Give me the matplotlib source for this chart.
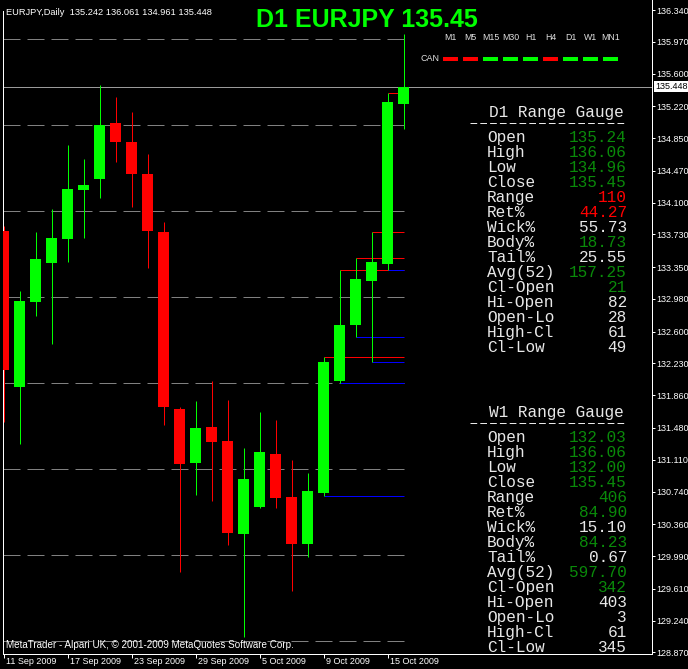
import matplotlib
matplotlib.use("Agg")
import matplotlib.pyplot as plt
from matplotlib import transforms

plt.rcParams['lines.scale_dashes'] = False

# ---------------- data ----------------
symbol = "EURJPY"
period = "Daily"
opens = [133.77, 131.96, 132.95, 133.40, 133.68, 134.25, 134.37, 135.03, 134.81, 134.43,
         133.76, 131.70, 131.07, 131.49, 131.33, 130.25, 130.56, 131.18, 130.68, 130.13,
         130.72, 132.03, 132.68, 133.19, 133.39, 135.242]
highs = [133.83, 133.07, 133.76, 134.03, 134.77, 134.61, 135.47, 135.33, 135.15, 134.67,
         133.88, 131.72, 131.79, 132.03, 131.81, 131.25, 131.67, 131.57, 131.11, 130.96,
         132.31, 133.32, 133.46, 133.76, 135.38, 136.061]
lows = [131.55, 131.29, 132.78, 132.46, 133.41, 133.69, 134.15, 134.57, 134.05, 133.34,
        131.51, 129.81, 130.70, 130.63, 130.12, 129.05, 130.55, 130.55, 129.58, 129.98,
        130.69, 132.00, 132.54, 132.25, 133.32, 134.961]
closes = [132.15, 132.96, 133.44, 133.69, 134.26, 134.31, 135.00, 134.81, 134.43, 133.77,
          131.72, 131.06, 131.48, 131.32, 130.26, 130.89, 131.20, 130.67, 130.13, 130.75,
          132.25, 132.68, 133.21, 133.41, 135.27, 135.448]

date_labels = ["11 Sep 2009", "17 Sep 2009", "23 Sep 2009", "29 Sep 2009",
               "5 Oct 2009", "9 Oct 2009", "15 Oct 2009"]
date_label_bars = [0, 4, 8, 12, 16, 20, 24]
price_ticks = [136.340, 135.970, 135.600, 135.220, 134.850, 134.470, 134.100, 133.730,
               133.350, 132.980, 132.600, 132.230, 131.860, 131.480, 131.110, 130.740,
               130.360, 129.990, 129.610, 129.240, 128.870]
grid_levels = [129, 130, 131, 132, 133, 134, 135, 136]
level_bars = [20, 21, 22, 23, 24]

title_text = "D1 EURJPY 135.45"
watermark = "MetaTrader - Alpari UK, \u00a9 2001-2009 MetaQuotes Software Corp."
tf_labels = ["M1", "M5", "M15", "M30", "H1", "H4", "D1", "W1", "MN1"]
tf_bull = [False, False, True, True, True, False, True, True, True]
tf_row_label = "CAN"

gauge_labels = ["Open", "High", "Low", "Close", "Range", "Ret%", "Wick%", "Body%",
                "Tail%", "Avg(52)", "Cl-Open", "Hi-Open", "Open-Lo", "High-Cl", "Cl-Low"]
d1_title = "D1 Range Gauge"
d1_values = ["135.24", "136.06", "134.96", "135.45", "110", "44.27", "55.73", "18.73",
             "25.55", "157.25", "21", "82", "28", "61", "49"]
d1_kinds = ["g", "g", "g", "g", "r", "r", "w", "g", "w", "g", "g", "w", "w", "w", "w"]
w1_title = "W1 Range Gauge"
w1_values = ["132.03", "136.06", "132.00", "135.45", "406", "84.90", "15.10", "84.23",
             "0.67", "597.70", "342", "403", "3", "61", "345"]
w1_kinds = ["g", "g", "g", "g", "g", "g", "w", "g", "w", "g", "g", "w", "w", "w", "w"]

# ---------------- layout ----------------
W, H = 688, 669
BULL, BEAR = "#00FF00", "#FF0000"
GAUGE_COL = {"g": "#0a8a0a", "r": "#FF0000", "w": "#E8E8E8"}
PX = 0.72  # 1 px in points at 100 dpi
SANS = "Liberation Sans"
MONO = "Liberation Mono"

fig = plt.figure(figsize=(W / 100, H / 100), dpi=100, facecolor="black")

ax_left_px, ax_right_px = 2.5, 651.5
ax_top_px, ax_bot_px = 0.0, 653.5
ax = fig.add_axes([ax_left_px / W, (H - ax_bot_px) / H,
                   (ax_right_px - ax_left_px) / W, (ax_bot_px - ax_top_px) / H])
ax.set_facecolor("black")

bar_px, bar0_px = 16.0, 3.5
ppy = 86.0  # px per yen
ref_price, ref_row = 136.34, 10.0


def price_at_row(r):
    return ref_price - (r - ref_row) / ppy


x_lo = (ax_left_px - bar0_px) / bar_px
x_hi = (ax_right_px - bar0_px) / bar_px
y_hi = price_at_row(ax_top_px)
y_lo = price_at_row(ax_bot_px)
ax.set_xlim(x_lo, x_hi)
ax.set_ylim(y_lo, y_hi)

last = len(closes) - 1

# grid (dashed), only over the candle area
for lvl in grid_levels:
    ax.plot([x_lo, last + 0.03], [lvl, lvl], color="#808080", lw=PX,
            dashes=(17 * PX, 7 * PX), zorder=1, solid_capstyle="butt")

# bid line
ax.axhline(closes[-1], color="#9a9a9a", lw=PX, zorder=1.5)

# high/low levels of recent bars
for i in level_bars:
    ax.hlines(highs[i], i, last, color="#FF0000", lw=PX, zorder=2)
    ax.hlines(lows[i], i, last, color="#0000FF", lw=PX, zorder=2)

# candles
body_w = 11 / bar_px
for i, (o, h, l, c) in enumerate(zip(opens, highs, lows, closes)):
    col = BULL if c >= o else BEAR
    ax.vlines(i, l, h, color=col, lw=PX, zorder=3)
    ax.bar(i, max(abs(c - o), 0.02), bottom=min(o, c), width=body_w, color=col,
           edgecolor="none", zorder=3.5)

# spines / ticks
ax.spines["top"].set_visible(False)
for s in ["left", "right", "bottom"]:
    ax.spines[s].set_color("white")
    ax.spines[s].set_linewidth(PX)
ax.spines["left"].set_bounds(y_lo, price_at_row(11))

ax.yaxis.tick_right()
ax.set_yticks(price_ticks)
ax.set_yticklabels([f"{p:.3f}" for p in price_ticks])
ax.tick_params(axis="y", colors="white", length=3 * PX, width=PX, pad=1.5,
               labelsize=6.5, labelcolor="white")
for t in ax.get_yticklabels():
    t.set_fontfamily(SANS)

ax.set_xticks(date_label_bars)
ax.set_xticklabels([""] * len(date_label_bars))
ax.tick_params(axis="x", colors="white", length=4 * PX, width=PX)
xt = transforms.offset_copy(ax.get_xaxis_transform(), fig=fig, x=2, y=-3.5, units="dots")
for b, lab in zip(date_label_bars, date_labels):
    ax.text(b, 0, lab, transform=xt, ha="left", va="top", fontsize=6.5,
            family=SANS, color="white", clip_on=False)

# current price box
pt = transforms.offset_copy(transforms.blended_transform_factory(ax.transAxes, ax.transData),
                            fig=fig, x=4, y=0, units="dots")
ax.text(1.0, closes[-1], f"{closes[-1]:.3f}", transform=pt, ha="left", va="center",
        fontsize=6.5, family=SANS, color="black",
        bbox=dict(facecolor="white", edgecolor="none", pad=0.9), clip_on=False)


def fx(x):
    return x / W


def fy(y):
    return 1 - y / H


# header
fig.text(fx(6), fy(15), f"{symbol},{period}  " + " ".join(
    f"{v:.3f}" for v in (opens[-1], highs[-1], lows[-1], closes[-1])),
    ha="left", va="baseline", fontsize=6.7, family=SANS, color="white")

# watermark
fig.text(fx(6), fy(647.5), watermark, ha="left", va="baseline", fontsize=7.1,
         family=SANS, color="white")

# title
fig.text(fx(367), fy(27), title_text, ha="center", va="baseline", fontsize=18,
         weight="bold", family=SANS, color="#00FF00")

# timeframe row
for k, (lab, bull) in enumerate(zip(tf_labels, tf_bull)):
    x0 = 443 + 20 * k
    fig.text(fx(x0 + 7.5), fy(40), lab, ha="center", va="baseline", fontsize=6.3,
             family=SANS, color="#E0E0E0")
    fig.add_artist(plt.Line2D([fx(x0), fx(x0 + 15)], [fy(58.5), fy(58.5)],
                              transform=fig.transFigure, color=BULL if bull else BEAR,
                              lw=4 * PX, solid_capstyle="butt"))
fig.text(fx(439.5), fy(61), tf_row_label, ha="right", va="baseline", fontsize=6.5,
         family=SANS, color="#E0E0E0")


# gauges
def gauge(top, title, values, kinds):
    t = fig.text(fx(489), fy(top + 117.3), title, ha="left", va="baseline",
                 fontsize=11.6, family=MONO, color="#E8E8E8")
    t.set_clip_box(ax.bbox)
    # separator rule of 16 dashes
    fig.add_artist(plt.Line2D([fx(470), fx(470 + 16 * 9.8 - 3.1)],
                              [fy(top + 123), fy(top + 123)],
                              transform=fig.transFigure, color="#E8E8E8", lw=PX,
                              dashes=(6.7 * PX, 3.1 * PX), solid_capstyle="butt"))
    for k, (lab, val, kd) in enumerate(zip(gauge_labels, values, kinds)):
        yb = top + 142.3 + 15 * k
        t1 = fig.text(fx(487), fy(yb), lab, ha="left", va="baseline", fontsize=11.6,
                      family=MONO, color="#E8E8E8")
        t2 = fig.text(fx(627), fy(yb), val, ha="right", va="baseline", fontsize=11.6,
                      family=MONO, color=GAUGE_COL[kd])
        t1.set_clip_box(ax.bbox)
        t2.set_clip_box(ax.bbox)


gauge(0, d1_title, d1_values, d1_kinds)
gauge(300, w1_title, w1_values, w1_kinds)

fig.savefig("out.png", dpi=100, facecolor="black")
